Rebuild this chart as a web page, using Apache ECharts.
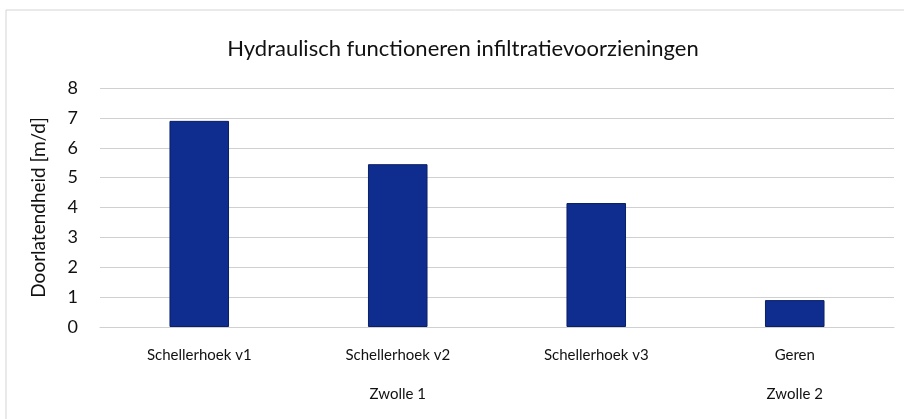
<!DOCTYPE html>
<html><head><meta charset="utf-8">
<script src="https://cdn.jsdelivr.net/npm/echarts@6/dist/echarts.min.js"></script>
<style>html,body{margin:0;padding:0;background:#fff}#c{width:904px;height:419px}</style>
</head><body><div id="c"></div>
<script>
var titleText = 'Hydraulisch functioneren infiltratievoorzieningen';
var yName = 'Doorlatendheid [m/d]';
var categories = ['Schellerhoek v1', 'Schellerhoek v2', 'Schellerhoek v3', 'Geren'];
var groupLabels = ['', 'Zwolle 1', '', 'Zwolle 2'];
var values = [6.9, 5.45, 4.15, 0.9];

var chart = echarts.init(document.getElementById('c'), null, {renderer: 'canvas'});
var font = 'Lato, "Open Sans", sans-serif';
chart.setOption({
  backgroundColor: '#fff',
  animation: false,
  title: {
    text: titleText, left: 458, textAlign: 'center', top: 33,
    textStyle: {fontFamily: font, fontSize: 22, fontWeight: 'normal', color: '#111'}
  },
  grid: {left: 100, right: 10, top: 88, bottom: 92, containLabel: false},
  xAxis: [{
    type: 'category', data: categories, position: 'bottom',
    axisLine: {show: true, lineStyle: {color: '#d0d0d0', width: 1}},
    axisTick: {show: false},
    axisLabel: {fontFamily: font, fontSize: 15, color: '#111', margin: 21}
  }, {
    type: 'category', data: groupLabels, position: 'bottom', offset: 48,
    axisLine: {show: false},
    splitLine: {show: false},
    axisTick: {show: false},
    axisLabel: {fontFamily: font, fontSize: 15, color: '#111', margin: 12, interval: 0}
  }],
  yAxis: {
    type: 'value', min: 0, max: 8, interval: 1,
    name: yName, nameLocation: 'middle', nameGap: 52, nameRotate: 90,
    nameTextStyle: {fontFamily: font, fontSize: 19, color: '#111'},
    axisLine: {show: false}, axisTick: {show: false},
    axisLabel: {fontFamily: font, fontSize: 18, color: '#111', margin: 22},
    splitLine: {lineStyle: {color: '#d0d0d0', width: 1}}
  },
  series: [{
    type: 'bar', data: values, xAxisIndex: 0, barWidth: '30%',
    itemStyle: {color: '#0f2d8e', borderColor: '#0a1f66', borderWidth: 1}
  }],
  graphic: [{
    type: 'rect', shape: {x: 6, y: 10, width: 900, height: 412},
    style: {fill: 'none', stroke: '#d4d4d4', lineWidth: 1}, silent: true
  }]
});
</script></body></html>
